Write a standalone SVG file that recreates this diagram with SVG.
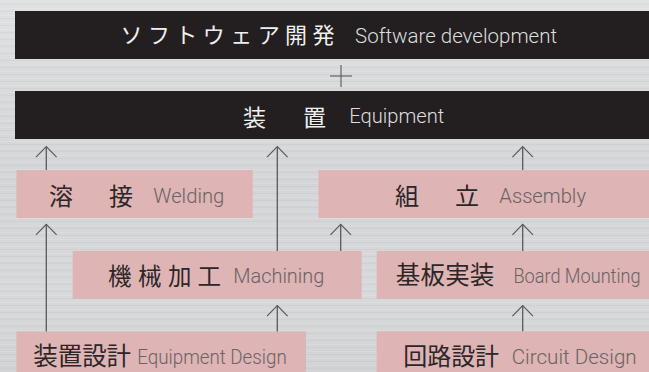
<svg xmlns="http://www.w3.org/2000/svg" width="649" height="372" viewBox="0 0 649 372">
  <defs>
    <linearGradient id="bg" x1="0" y1="0" x2="0" y2="1">
      <stop offset="0" stop-color="#e0e1e3"/>
      <stop offset="0.2" stop-color="#d9dadc"/>
      <stop offset="0.5" stop-color="#d4d5d7"/>
      <stop offset="0.8" stop-color="#d7d8da"/>
      <stop offset="1" stop-color="#d1d2d4"/>
    </linearGradient>
    <pattern id="brush" width="649" height="7" patternUnits="userSpaceOnUse">
      <rect x="0" y="1" width="649" height="1" fill="#ffffff" opacity="0.15"/>
      <rect x="0" y="4" width="649" height="1" fill="#9a9b9e" opacity="0.1"/>
      <rect x="0" y="6" width="649" height="0.6" fill="#ffffff" opacity="0.08"/>
    </pattern>
    <marker id="arr" markerUnits="userSpaceOnUse" viewBox="-12 -12 14 24" markerWidth="14" markerHeight="24" refX="0" refY="0" orient="auto" overflow="visible">
      <path d="M-10.5,-10.3 L0,0 L-10.5,10.3" fill="none" stroke="#5a5a5c" stroke-width="1.2"/>
    </marker>
  </defs>
  <style>
    .bar { fill: #231f20; }
    .box { fill: #deb4b4; }
    .jpw { font-family: "Noto Sans CJK JP", "Noto Sans CJK SC", sans-serif; fill: #f0f0f0; }
    .enw { font-family: Roboto, "Liberation Sans", Arial, sans-serif; font-weight: 300; fill: #dedede; font-size: 19.5px; }
    .jpd { font-family: "Noto Sans CJK JP", "Noto Sans CJK SC", sans-serif; fill: #2b2627; }
    .end { font-family: Roboto, "Liberation Sans", Arial, sans-serif; font-weight: 300; fill: #6a6365; font-size: 19.5px; }
    .con { stroke: #5a5a5c; stroke-width: 1.3; fill: none; }
  </style>

  <rect x="0" y="0" width="649" height="372" fill="url(#bg)"/>
  <rect x="0" y="0" width="649" height="372" fill="url(#brush)"/>

  <g id="software">
    <rect class="bar" x="15" y="11" width="634" height="48"/>
    <text class="jpw" x="120.5" y="43.3" font-size="22" textLength="214" lengthAdjust="spacing">ソフトウェア開発</text>
    <text class="enw" x="355" y="43.3" textLength="202" lengthAdjust="spacingAndGlyphs">Software development</text>
  </g>

  <g id="plus">
    <line x1="330" y1="76" x2="352" y2="76" stroke="#5a5a5c" stroke-width="1.1"/>
    <line x1="341" y1="65" x2="341" y2="87" stroke="#5a5a5c" stroke-width="1.1"/>
  </g>

  <g id="equipment">
    <rect class="bar" x="15" y="91" width="634" height="48"/>
    <text class="jpw" y="125.5" font-size="23"><tspan x="243">装</tspan><tspan x="303">置</tspan></text>
    <text class="enw" x="349.3" y="123.3" textLength="95" lengthAdjust="spacingAndGlyphs">Equipment</text>
  </g>

  <g id="welding">
    <rect class="box" x="16.5" y="170" width="236.2" height="48"/>
    <text class="jpd" y="205" font-size="24"><tspan x="49">溶</tspan><tspan x="109">接</tspan></text>
    <text class="end" x="153.3" y="203.3" textLength="71" lengthAdjust="spacingAndGlyphs">Welding</text>
  </g>

  <g id="assembly">
    <rect class="box" x="318.5" y="170" width="330.5" height="48"/>
    <text class="jpd" y="205" font-size="24"><tspan x="395">組</tspan><tspan x="455">立</tspan></text>
    <text class="end" x="499.3" y="203" textLength="86.7" lengthAdjust="spacingAndGlyphs">Assembly</text>
  </g>

  <g id="machining">
    <rect class="box" x="72.7" y="251" width="289" height="48"/>
    <text class="jpd" y="284.7" font-size="23.5"><tspan x="108">機</tspan><tspan x="138">械</tspan><tspan x="168">加</tspan><tspan x="197.5">工</tspan></text>
    <text class="end" x="233.3" y="283.3" textLength="91" lengthAdjust="spacingAndGlyphs">Machining</text>
  </g>

  <g id="board">
    <rect class="box" x="376.7" y="251" width="272.3" height="48"/>
    <text class="jpd" x="395.8" y="284.3" font-size="24.5" textLength="98.5" lengthAdjust="spacing">基板実装</text>
    <text class="end" x="513.5" y="283.3" textLength="127" lengthAdjust="spacingAndGlyphs">Board Mounting</text>
  </g>

  <g id="equipment-design">
    <rect class="box" x="16.5" y="331.5" width="289.5" height="41"/>
    <text class="jpd" x="33.3" y="365.2" font-size="24.5" textLength="97.8" lengthAdjust="spacing">装置設計</text>
    <text class="end" x="137.3" y="363.5" textLength="149.4" lengthAdjust="spacingAndGlyphs">Equipment Design</text>
  </g>

  <g id="circuit-design">
    <rect class="box" x="376.7" y="331.3" width="272.3" height="41"/>
    <text class="jpd" x="403.3" y="365.2" font-size="24" textLength="95.8" lengthAdjust="spacing">回路設計</text>
    <text class="end" x="511.7" y="364" textLength="125" lengthAdjust="spacingAndGlyphs">Circuit Design</text>
  </g>

  <g id="connectors">
    <line class="con" x1="46.3" y1="170" x2="46.3" y2="146.7" marker-end="url(#arr)"/>
    <line class="con" x1="46.3" y1="331.5" x2="46.3" y2="224.3" marker-end="url(#arr)"/>
    <line class="con" x1="277.3" y1="251" x2="277.3" y2="146.7" marker-end="url(#arr)"/>
    <line class="con" x1="277.3" y1="331.5" x2="277.3" y2="305.7" marker-end="url(#arr)"/>
    <line class="con" x1="340.7" y1="251" x2="340.7" y2="224.3" marker-end="url(#arr)"/>
    <line class="con" x1="522.7" y1="170" x2="522.7" y2="146.7" marker-end="url(#arr)"/>
    <line class="con" x1="522.7" y1="251" x2="522.7" y2="224.3" marker-end="url(#arr)"/>
    <line class="con" x1="522.7" y1="331.3" x2="522.7" y2="305.7" marker-end="url(#arr)"/>
  </g>
</svg>
